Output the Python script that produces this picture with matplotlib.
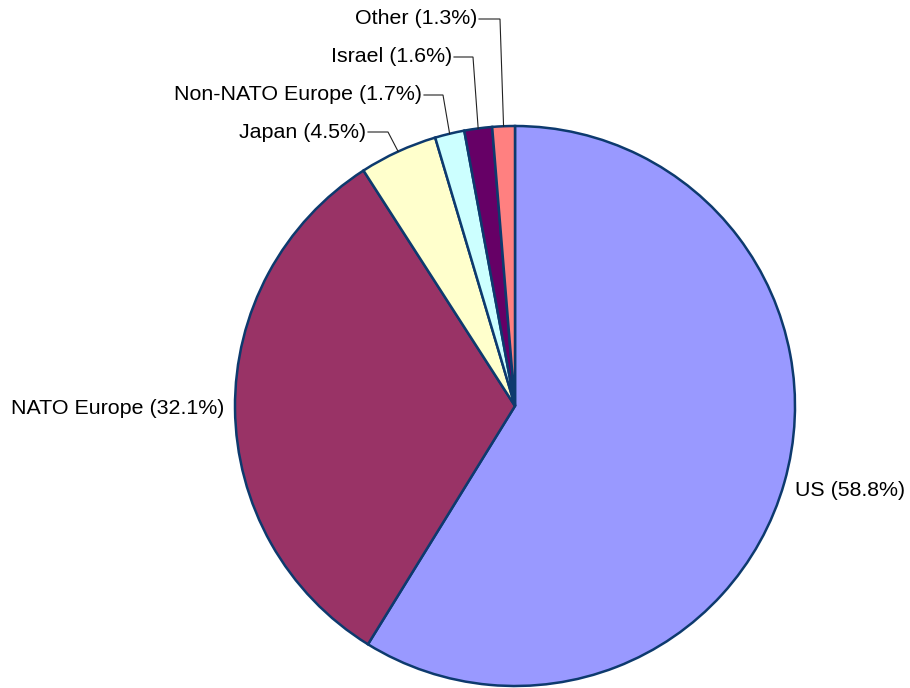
import numpy as np
import matplotlib
matplotlib.use("Agg")
import matplotlib.pyplot as plt

labels = ["US", "NATO Europe", "Japan", "Non-NATO Europe", "Israel", "Other"]
shares = [58.8, 32.1, 4.5, 1.7, 1.6, 1.3]
colors = ["#9999FF", "#993366", "#FFFFCC", "#CCFFFF", "#660066", "#FF8080"]

plt.rcParams['font.family'] = ['Liberation Sans', 'DejaVu Sans']

W, H = 910, 688
CX, CY, R = 515, 406, 280

fig = plt.figure(figsize=(W / 100, H / 100), dpi=100)
ax = fig.add_axes([0, 0, 1, 1])
ax.axis('off')

def px(x, y):
    return ((x - CX) / R, (CY - y) / R)

wedges, _ = ax.pie(shares, colors=colors, startangle=90, counterclock=False,
                   radius=1.0, center=(0, 0),
                   wedgeprops=dict(edgecolor="#0D3A6E", linewidth=1.8))
ax.set_xlim(-CX / R, (W - CX) / R)
ax.set_ylim(-(H - CY) / R, CY / R)
ax.set_aspect('auto')

fs = 15.4
texts = [f"{l} ({v:.1f}%)" for l, v in zip(labels, shares)]

# US and NATO Europe: labels without leader lines
ax.text(*px(795, 491), texts[0], ha='left', va='center', fontsize=fs, color='black')
ax.text(*px(224, 409), texts[1], ha='right', va='center', fontsize=fs, color='black')

# small slices with elbow leader lines
label_pos = {2: (366, 132), 3: (422, 95), 4: (452, 57), 5: (477, 19)}
elbow_x = {2: 388, 3: 443, 4: 473, 5: 500}
for i, (lx, ly) in label_pos.items():
    w = wedges[i]
    mid = np.deg2rad((w.theta1 + w.theta2) / 2)
    ex, ey = np.cos(mid), np.sin(mid)
    ax.text(*px(lx, ly), texts[i], ha='right', va='center', fontsize=fs, color='black')
    p0 = px(lx + 2, ly)
    p1 = px(elbow_x[i], ly)
    ax.plot([p0[0], p1[0], ex], [p0[1], p1[1], ey], color='#222222', lw=0.8,
            solid_joinstyle='miter')

fig.savefig("out.png", dpi=100)
